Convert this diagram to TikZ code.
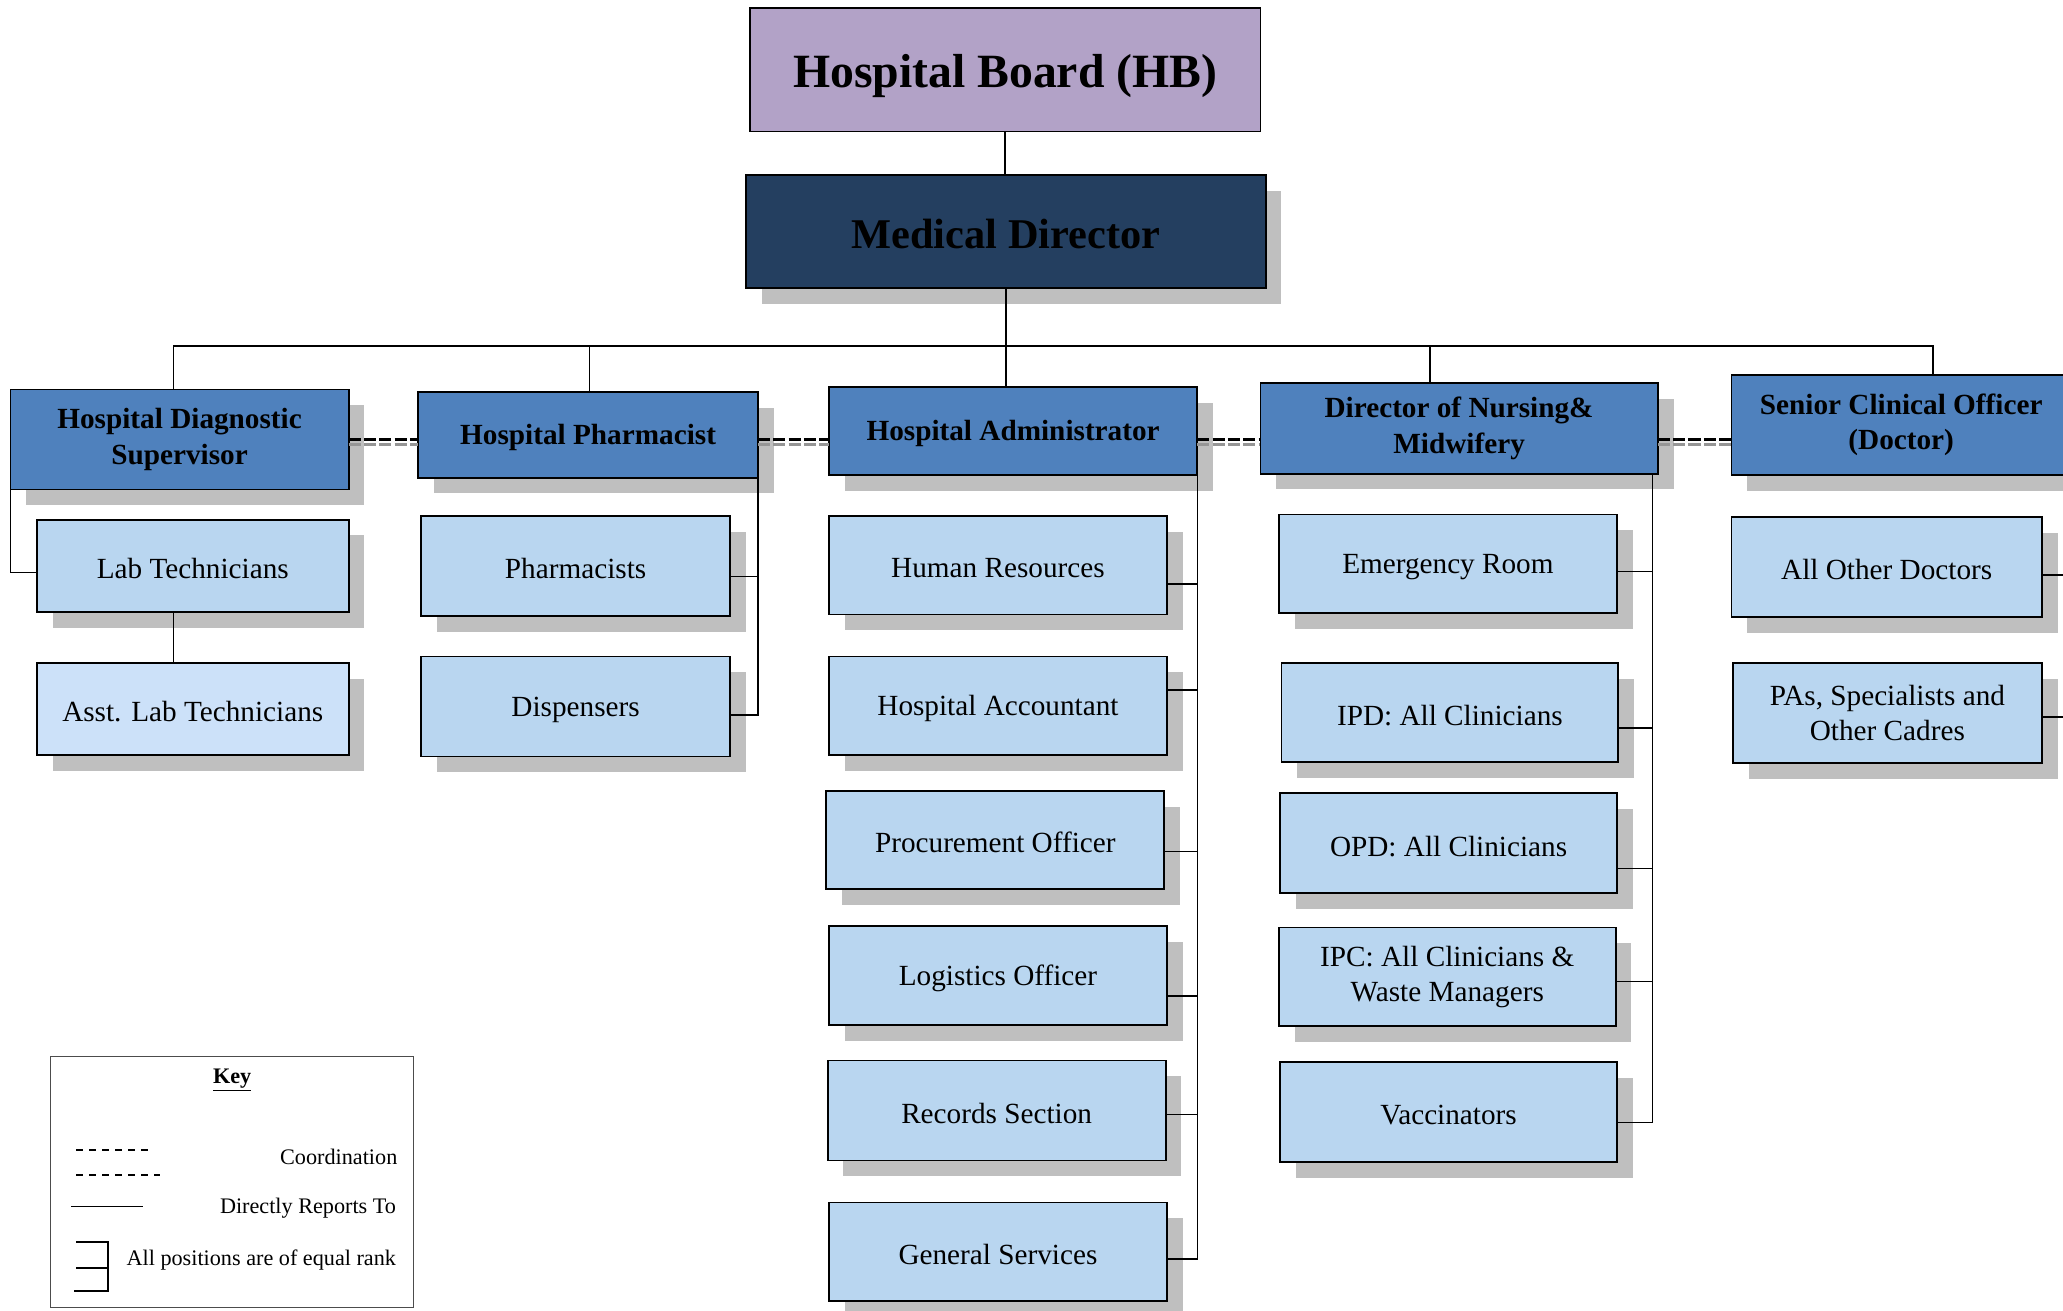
\documentclass[tikz,border=0pt]{standalone}
\usepackage{fontspec}
\setmainfont{Liberation Serif}
\usetikzlibrary{shadows}
\usetikzlibrary{calc}
\definecolor{lavender1}{RGB}{178,162,199}
\definecolor{navy1}{RGB}{36,63,96}
\definecolor{steelblue1}{RGB}{79,129,189}
\definecolor{paleblue1}{RGB}{185,214,240}
\definecolor{paleblue2}{RGB}{204,225,249}
\definecolor{gray3}{RGB}{191,191,191}
\definecolor{gray4}{RGB}{150,150,150}
\def\pix{0.025cm}
\def\coordy{334}

\begin{document}
\begin{tikzpicture}[x={(0.025cm,0cm)}, y={(0cm,-0.025cm)},
				inner sep=0pt, outer sep=0pt,
				dims/.style 2 args={minimum width=#1*\pix,minimum height=#2*\pix},
				link/.style={line width=0.8pt},
				coord/.style={line width=2pt,dash pattern=on 6.5pt off 1.8pt},
				coordshade/.style={line width=1.6pt,color=gray4,dash pattern=on 6.5pt off 1.8pt},
				boxshadow/.style={drop shadow={shadow xshift=12*\pix,shadow yshift=-12*\pix,fill=gray3,opacity=1}},
				board/.style={draw=black,line width=1pt,fill=lavender1,font=\fontsize{25.8}{31}\selectfont\bfseries},
				director/.style={draw=black,line width=1pt,fill=navy1,boxshadow,font=\fontsize{22.9}{27}\selectfont\bfseries},
				head/.style={draw=black,line width=1pt,fill=steelblue1,boxshadow,align=center,font=\fontsize{15.8}{19.2}\selectfont\bfseries,execute at begin node={\rule{0pt}{14pt}}},
				unit/.style={draw=black,line width=1pt,fill=#1,boxshadow,align=center,font=\fontsize{15.8}{19.2}\selectfont,execute at begin node={\rule{0pt}{14pt}}},
				keytext/.style={anchor=east,font=\fontsize{12}{14}\selectfont},
				keyline/.style={line width=0.8pt,dash pattern=on 3.5pt off 3.5pt}]

	\useasboundingbox (0,0) rectangle (1568,995.7);

	% Top
	\node[board, dims={388}{94}] (hb) at (764,53) {\rule{0pt}{25pt}Hospital Board (HB)};
	\node[director, dims={395}{86}] (md) at (764.5,176) {\rule{0pt}{19pt}Medical Director};

	% Heads
	\node[head, dims={257}{76}] (hds) at (136.5,334) {Hospital Diagnostic\\Supervisor};
	\node[head, dims={258}{65}] (hp) at (447,330.5) {Hospital Pharmacist};
	\node[head, dims={280}{67}] (ha) at (770,327.5) {Hospital Administrator};
	\node[head, dims={302}{69}] (dn) at (1109,325.5) {Director of Nursing\&\\Midwifery};
	\node[head, dims={258}{76}] (sco) at (1445,323) {Senior Clinical Officer\\(Doctor)};

	% Diagnostics and pharmacy
	\node[unit=paleblue1, dims={237}{70}] (lab) at (146.5,430) {Lab Technicians};
	\node[unit=paleblue2, dims={237}{70}] (asst) at (146.5,539) {Asst. Lab Technicians};
	\node[unit=paleblue1, dims={235}{76}] (phm) at (437.5,430) {Pharmacists};
	\node[unit=paleblue1, dims={235}{76}] (disp) at (437.5,537) {Dispensers};

	% Administration
	\node[unit=paleblue1, dims={257}{75}] (hr) at (758.5,429.5) {Human Resources};
	\node[unit=paleblue1, dims={257}{75}] (acc) at (758.5,536.5) {Hospital Accountant};
	\node[unit=paleblue1, dims={257}{75}] (proc) at (756.5,638.5) {Procurement Officer};
	\node[unit=paleblue1, dims={257}{75}] (logi) at (758.5,741.5) {Logistics Officer};
	\node[unit=paleblue1, dims={257}{76}] (rec) at (757.5,844) {Records Section};
	\node[unit=paleblue1, dims={257}{75}] (gs) at (758.5,951.5) {General Services};

	% Nursing
	\node[unit=paleblue1, dims={257}{75}] (er) at (1100.5,428.5) {Emergency Room};
	\node[unit=paleblue1, dims={256}{75}] (ipd) at (1102,541.5) {IPD: All Clinicians};
	\node[unit=paleblue1, dims={256}{76}] (opd) at (1101,641) {OPD: All Clinicians};
	\node[unit=paleblue1, dims={256}{75}] (ipc) at (1100,742.5) {IPC: All Clinicians \&\\Waste Managers};
	\node[unit=paleblue1, dims={256}{76}] (vac) at (1101,845) {Vaccinators};

	% Doctors
	\node[unit=paleblue1, dims={236}{76}] (aod) at (1434,431) {All Other Doctors};
	\node[unit=paleblue1, dims={235}{76}] (pas) at (1434.5,542) {PAs, Specialists and\\Other Cadres};

	% Reporting lines
	\coordinate (bus) at (0,263);
	\coordinate (hdsin) at ($(hds.north)+(-4.5,0)$);
	\coordinate (hpin) at ($(hp.north)+(1,0)$);
	\coordinate (dnin) at ($(dn.north)+(-22,0)$);
	\coordinate (scoin) at ($(sco.north)+(24,0)$);
	\draw[link] (hb.south) -- (hb.south |- md.north);
	\draw[link] (md.south) -- (md.south |- ha.north);
	\draw[link] (hdsin) -- (hdsin |- bus) -- (scoin |- bus) -- (scoin);
	\draw[link] (hpin) -- (hpin |- bus);
	\draw[link] (dnin) -- (dnin |- bus);

	% Coordination lines
	\foreach \a/\b in {hds/hp, hp/ha, ha/dn, dn/sco}{
		\draw[coordshade] (\a.east |- 0,\coordy+3.5) -- (\b.west |- 0,\coordy+3.5);
		\draw[coord] (\a.east |- 0,\coordy) -- (\b.west |- 0,\coordy);
	}

	% Equal rank brackets
	\draw[link] (hds.south west) |- ($(lab.west)+(0,5)$);
	\draw[link] (lab.south -| hdsin) -- (asst.north -| hdsin);

	\draw[link] (hp.south east) |- ($(disp.east)+(0,6.5)$);
	\draw[link] ($(phm.east)+(0,8)$) -- ($(phm.east -| hp.south east)+(0,8)$);

	\draw[link] (ha.south east) |- ($(gs.east)+(0,5.5)$);
	\foreach \n/\dy in {hr/14.5, acc/-12, proc/8.5, logi/15.5, rec/3}
		\draw[link] ($(\n.east)+(0,\dy)$) -- ($(\n.east -| ha.south east)+(0,\dy)$);

	\coordinate (dnrail) at ($(dn.south east)+(-4,0)$);
	\draw[link] (dnrail) |- ($(vac.east)+(0,8)$);
	\foreach \n/\dy in {er/6, ipd/12, opd/19, ipc/3.5}
		\draw[link] ($(\n.east)+(0,\dy)$) -- ($(\n.east -| dnrail)+(0,\dy)$);

	\draw[link] (sco.south east) |- ($(pas.east)+(0,3)$);
	\draw[link] ($(aod.east)+(0,6)$) -- ($(aod.east -| sco.south east)+(0,6)$);

	% Key
	\node[draw=black!70, line width=0.6pt, dims={276}{191}] (key) at (176.5,898.5) {};
	\node[font=\fontsize{12}{14}\selectfont\bfseries] (keytitle) at (176.5,821) {\underline{Key}};
	\node[keytext] (coordtxt) at (302,879) {Coordination};
	\node[keytext] (reporttxt) at (301,918) {Directly Reports To};
	\node[keytext] (ranktxt) at (301,958) {All positions are of equal rank};
	\draw[keyline] (58,874) -- (113,874);
	\draw[keyline] (58,893) -- (125,893);
	\draw[line width=0.9pt] (54,917) -- (109,917);
	\draw[line width=0.9pt] (58,944) -| (82,981) -- (56,981);
	\draw[line width=0.9pt] (58,964) -- (82,964);

\end{tikzpicture}
\end{document}
